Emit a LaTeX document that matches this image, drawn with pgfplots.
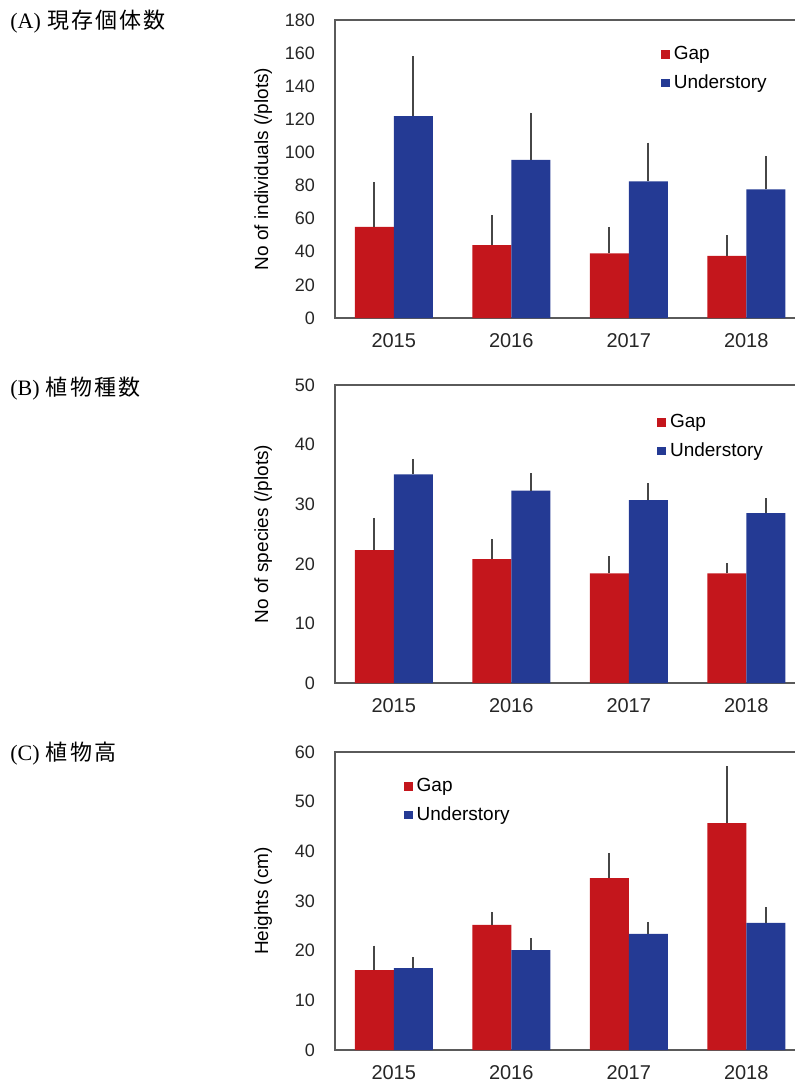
\documentclass[border=0pt]{standalone}
\usepackage{pgfplots}
\pgfplotsset{compat=1.18}
\usepackage{fontspec}
\setmainfont{Liberation Sans}
\newfontfamily\serif{Liberation Serif}
\newfontfamily\cjk[LetterSpace=10]{Noto Sans CJK JP}
\definecolor{gapred}{RGB}{196,22,28}
\definecolor{ublue}{RGB}{36,58,148}
\definecolor{axgray}{RGB}{90,90,90}
\definecolor{errgray}{RGB}{70,70,70}

\pgfplotsset{
 panel/.style={
   scale only axis, width=235pt, height=149pt,
   xmin=-0.5, xmax=3.5, ymin=0,
   xtick={0,1,2,3}, xticklabels={2015,2016,2017,2018},
   major tick length=0pt,
   axis line style={axgray, line width=0.8pt},
   ybar=0pt, bar width=19.5pt,
   tick label style={font=\fontsize{9}{10}\selectfont, text=black!85},
   x tick label style={font=\fontsize{10}{12}\selectfont, yshift=-4pt},
   /pgf/number format/assume math mode=true,
   y tick label style={xshift=-6.5pt},
   every axis y label/.style={at={(axis description cs:-0.153,0.5)}, rotate=90, anchor=center, font=\fontsize{9.5}{11}\selectfont},
   legend style={draw=none, fill=none, font=\fontsize{9.5}{11}\selectfont, row sep=2pt, legend cell align=left, anchor=north west},
   legend image code/.code={\fill[##1] (0pt,-2.2pt) rectangle (4.4pt,2.2pt);},
 },
 gapbar/.style={fill=gapred, draw=none, error bars/.cd, y dir=plus, y explicit, error mark=none, error bar style={errgray, line width=1pt}},
 ubar/.style={fill=ublue, draw=none, error bars/.cd, y dir=plus, y explicit, error mark=none, error bar style={errgray, line width=1pt}},
}

\pgfplotstableread{
x y e
0 55 27
1 44 18
2 39 16
3 37.6 12.5
}\AGap
\pgfplotstableread{
x y e
0 122 36
1 95.5 28.5
2 82.5 23.5
3 77.7 20.3
}\AUnder
\pgfplotstableread{
x y e
0 22.3 5.4
1 20.8 3.4
2 18.4 2.9
3 18.4 1.7
}\BGap
\pgfplotstableread{
x y e
0 35.0 2.6
1 32.3 2.9
2 30.7 2.8
3 28.5 2.5
}\BUnder
\pgfplotstableread{
x y e
0 16.1 4.9
1 25.2 2.6
2 34.6 5.1
3 45.7 11.5
}\CGap
\pgfplotstableread{
x y e
0 16.5 2.2
1 20.1 2.4
2 23.4 2.4
3 25.6 3.2
}\CUnder

\begin{document}
\begin{tikzpicture}
\useasboundingbox (0,0) rectangle (397.5pt,-541pt);
\clip (0,0) rectangle (397.5pt,-541pt);

\node[anchor=west, inner sep=0pt, font=\fontsize{11}{13}\selectfont] at (5pt,-11pt) {{\serif (A)} {\cjk 現存個体数}};
\node[anchor=west, inner sep=0pt, font=\fontsize{11}{13}\selectfont] at (5pt,-194.5pt) {{\serif (B)} {\cjk 植物種数}};
\node[anchor=west, inner sep=0pt, font=\fontsize{11}{13}\selectfont] at (5pt,-377pt) {{\serif (C)} {\cjk 植物高}};

\begin{axis}[panel, at={(167.5pt,-159pt)}, anchor=south west,
  ymax=180, ytick distance=20,
  ylabel={No of individuals (/plots)},
  legend style={at={(axis description cs:0.68,0.94)}}]
\addplot[gapbar] table[x=x, y=y, y error=e] {\AGap};
\addplot[ubar] table[x=x, y=y, y error=e] {\AUnder};
\legend{Gap, Understory}
\end{axis}

\begin{axis}[panel, at={(167.5pt,-341.5pt)}, anchor=south west,
  ymax=50, ytick distance=10,
  ylabel={No of species (/plots)},
  legend style={at={(axis description cs:0.672,0.93)}}]
\addplot[gapbar] table[x=x, y=y, y error=e] {\BGap};
\addplot[ubar] table[x=x, y=y, y error=e] {\BUnder};
\legend{Gap, Understory}
\end{axis}

\begin{axis}[panel, at={(167.5pt,-525pt)}, anchor=south west,
  ymax=60, ytick distance=10,
  ylabel={Heights (cm)},
  legend style={at={(axis description cs:0.133,0.94)}}]
\addplot[gapbar] table[x=x, y=y, y error=e] {\CGap};
\addplot[ubar] table[x=x, y=y, y error=e] {\CUnder};
\legend{Gap, Understory}
\end{axis}
\end{tikzpicture}
\end{document}
